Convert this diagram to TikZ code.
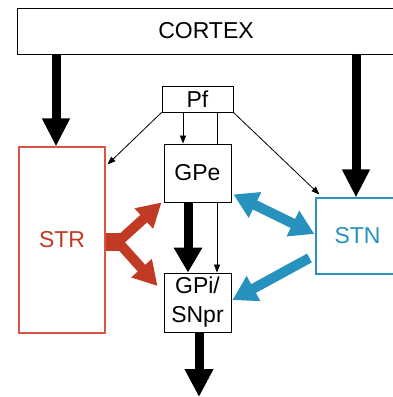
\documentclass[tikz,border=0pt]{standalone}
\usepackage{fontspec}
\setmainfont{Liberation Sans}
\usetikzlibrary{arrows.meta,backgrounds}
\definecolor{strred}{RGB}{192,58,36}
\definecolor{strborder}{RGB}{215,85,65}
\definecolor{stnblue}{RGB}{40,146,190}
\begin{document}
\begin{tikzpicture}[x=1pt,y=-1pt,
  box/.style={draw=black,line width=0.9pt,fill=white,inner sep=0pt,font=\fontsize{23}{29}\selectfont,align=center},
  bigarrow/.style={line width=9pt,-{Triangle[length=28pt,width=26pt]}},
  thinarrow/.style={line width=0.8pt,-{Triangle[length=8pt,width=6pt]}},
  redarrow/.style={strred,line width=10pt,-{Triangle[length=24pt,width=26pt]}},
  bluearrow/.style={stnblue,line width=10pt,-{Triangle[length=24pt,width=27pt]}},
  bluedouble/.style={stnblue,line width=10pt,{Triangle[length=24pt,width=27pt]}-{Triangle[length=24pt,width=27pt]}}]
\useasboundingbox (0,0) rectangle (393,397);
\clip (0,0) rectangle (393,397);
\node[box,minimum width=378pt,minimum height=46pt] (cortex) at (206,31) {CORTEX};
\node[box,minimum width=71pt,minimum height=26pt] (pf) at (197.5,99) {Pf};
\node[box,minimum width=67pt,minimum height=58pt] (gpe) at (197.5,173) {GPe};
\node[box,minimum width=67pt,minimum height=59pt] (gpi) at (197.5,302.5) {GPi/\\SNpr};
\node[box,draw=strborder,text=strred,line width=1.1pt,minimum width=86pt,minimum height=186pt] (str) at (62,240) {STR};
\node[box,draw=stnblue,text=stnblue,line width=1.1pt,minimum width=83pt,minimum height=76pt] (stn) at (357.5,236) {STN};
\coordinate (out) at (199,397);
% thick black arrows
\draw[bigarrow] (cortex.south -| str.north) ++(-6pt,0) -- ([xshift=-6pt]str.north);
\draw[bigarrow] ([xshift=-1.5pt]cortex.south -| stn.north) -- ([xshift=-1.5pt]stn.north);
\draw[bigarrow,-{Triangle[length=25pt,width=27pt]}] ([xshift=-9.5pt]gpe.south) -- ([xshift=-9.5pt]gpi.north);
\draw[bigarrow,-{Triangle[length=28pt,width=27pt]}] ([xshift=1.5pt]gpi.south) -- (out);
% thin arrows from Pf
\draw[thinarrow] (pf.south west) -- ([xshift=2pt,yshift=-18pt]str.north east);
\draw[thinarrow] ([xshift=-14.5pt]pf.south) -- ([xshift=-14.5pt]gpe.north);
\begin{pgfonlayer}{background}
\draw[thinarrow] ([xshift=19.5pt]pf.south) -- ([xshift=19.5pt]gpi.north);
\end{pgfonlayer}
\draw[thinarrow] (pf.south east) -- ([xshift=4pt,yshift=3pt]stn.north west);
% red branched arrow
\coordinate (jn) at (118,242);
\draw[strred,line width=18pt] ([yshift=-2pt]str.east) -- ([xshift=4pt]jn);
\draw[redarrow] (jn) -- ([xshift=-2pt]gpe.south west);
\draw[redarrow] (jn) -- ([xshift=-6pt,yshift=16.5pt]gpi.west);
% blue arrows
\draw[bluedouble] ([xshift=2pt,yshift=8pt]gpe.south east) -- ([xshift=-1pt,yshift=2pt]stn.west);
\draw[bluearrow] ([xshift=-6pt,yshift=-22pt]stn.west) -- ([xshift=1pt,yshift=2.5pt]gpi.east);
\end{tikzpicture}
\end{document}
